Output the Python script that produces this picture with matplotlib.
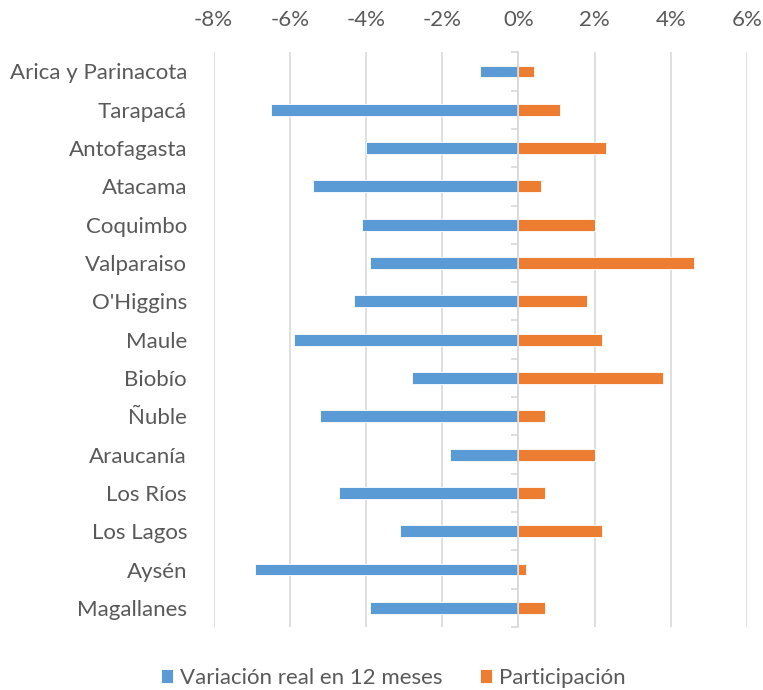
import numpy as np
import matplotlib
matplotlib.use('Agg')
from matplotlib import pyplot as plt

regiones = ['Arica y Parinacota', 'Tarapacá', 'Antofagasta', 'Atacama', 'Coquimbo',
            'Valparaiso', "O'Higgins", 'Maule', 'Biobío', 'Ñuble', 'Araucanía',
            'Los Ríos', 'Los Lagos', 'Aysén', 'Magallanes']
variacion = [-1.0, -6.5, -4.0, -5.4, -4.1, -3.9, -4.3, -5.9, -2.8, -5.2, -1.8, -4.7, -3.1, -6.9, -3.9]
participacion = [0.4, 1.1, 2.3, 0.6, 2.0, 4.6, 1.8, 2.2, 3.8, 0.7, 2.0, 0.7, 2.2, 0.2, 0.7]
xticks = [-8, -6, -4, -2, 0, 2, 4, 6]

azul = '#5B9BD5'
naranja = '#ED7D31'
gris = '#595959'

plt.rcParams['font.family'] = ['Lato', 'DejaVu Sans']

fig = plt.figure(figsize=(7.63, 6.9), dpi=100)
ax = fig.add_axes([213.5 / 763, 1 - 627 / 690, (747 - 213.5) / 763, (627 - 52.3) / 690])

y = np.arange(len(regiones))
ax.barh(y, variacion, height=0.31, color=azul, edgecolor='white', linewidth=0.6,
        label='Variación real en 12 meses', zorder=3)
ax.barh(y, participacion, height=0.31, color=naranja, edgecolor='white', linewidth=0.6,
        label='Participación', zorder=3)

ax.set_xlim(-8, 6)
ax.set_ylim(len(regiones) - 0.5, -0.5)
ax.set_xticks(xticks)
ax.set_xticklabels([f'{t}%' for t in xticks])
ax.xaxis.tick_top()
ax.tick_params(axis='x', length=0, pad=16, labelsize=16, labelcolor=gris)
ax.grid(axis='x', color='#D9D9D9', linewidth=1.2, zorder=0)

for s in ['top', 'right', 'bottom']:
    ax.spines[s].set_visible(False)
ax.spines['left'].set_position(('data', 0))
ax.spines['left'].set_color('#D9D9D9')
ax.spines['left'].set_linewidth(1.2)
ax.spines['left'].set_zorder(4)
ax.set_yticks(y)
ax.set_yticklabels([])
ax.tick_params(axis='y', which='major', length=0)
ax.set_yticks(np.arange(len(regiones) + 1) - 0.5, minor=True)
ax.tick_params(axis='y', which='minor', length=5, width=1.2, color='#D9D9D9', direction='out')

sec = ax.secondary_yaxis('left')
sec.set_yticks(y)
sec.set_yticklabels(regiones)
sec.tick_params(axis='y', length=0, pad=19, labelsize=16, labelcolor=gris)
sec.spines['left'].set_visible(False)

leg = fig.legend(loc='center', bbox_to_anchor=(393 / 763, 1 - 678 / 690), ncol=2,
                 frameon=False, fontsize=16, handlelength=0.55, handleheight=0.55,
                 handletextpad=0.3, columnspacing=1.7, labelcolor=gris)

fig.savefig('out.png', dpi=100)
